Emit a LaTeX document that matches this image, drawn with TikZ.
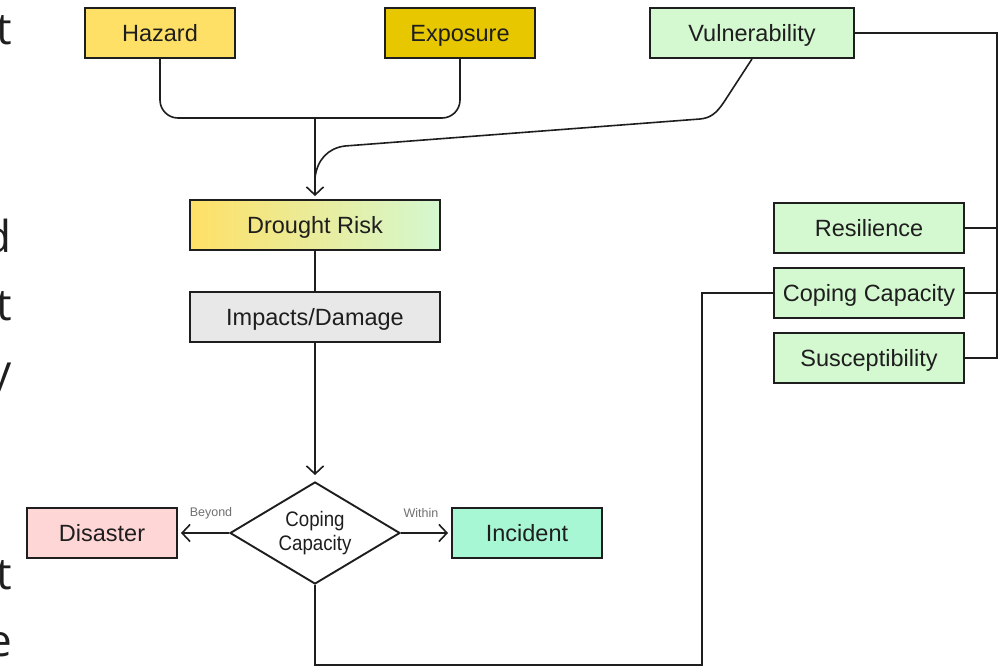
\documentclass[tikz,border=0pt]{standalone}
\usepackage{fontspec}
\setmainfont{Liberation Sans}
\newfontfamily\condfont{Liberation Sans}[FakeStretch=0.89]
\newfontfamily\edgefont{Open Sans}
\usetikzlibrary{shapes.geometric,arrows.meta}

\definecolor{hazardfill}{HTML}{FFE066}
\definecolor{exposurefill}{HTML}{E6C700}
\definecolor{vulnfill}{HTML}{D4F8D0}
\definecolor{impactfill}{HTML}{E8E8E8}
\definecolor{disasterfill}{HTML}{FFD6D6}
\definecolor{incidentfill}{HTML}{A8F7D4}
\definecolor{inkline}{HTML}{1E1E1E}
\definecolor{notegray}{HTML}{707070}

\begin{document}
\begin{tikzpicture}[x=1pt,y=-1pt,
  blk/.style={draw=inkline, line width=1.9pt, rectangle, inner sep=0pt,
    text=inkline, text height=17pt, text depth=0pt,
    font=\fontsize{23.5}{28}\selectfont},
  wide/.style={minimum width=150, minimum height=50},
  conn/.style={draw=inkline, line width=1.6pt},
  tip/.style={conn, -{Straight Barb[length=8pt,width=17pt]}},
  note/.style={text=notegray, font=\fontsize{12.5}{14}\selectfont, inner sep=0pt},
  edge/.style={anchor=base east, inner sep=0pt, text=inkline,
    font=\edgefont\fontsize{44}{50}\selectfont}]
\useasboundingbox (0,0) rectangle (999,666);
\fill[white] (0,0) rectangle (999,666);

% word endings of the neighbouring text column
\node[edge] (e1) at (12,45)  {t};
\node[edge] (e2) at (12,252) {d};
\node[edge] (e3) at (12,320) {t};
\node[edge] (e4) at (12,386) {y};
\node[edge] (e5) at (12,589) {t};
\node[edge] (e6) at (12,656) {e};

% drivers of risk
\node[blk, wide, fill=hazardfill] (haz) at (160,33) {Hazard};
\node[blk, wide, fill=exposurefill] (exp) at (460,33) {Exposure};
\node[blk, fill=vulnfill, minimum width=204, minimum height=50] (vul) at (752,33) {Vulnerability};

% components of vulnerability
\node[blk, fill=vulnfill, minimum width=190, minimum height=50] (res) at (869,228) {Resilience};
\node[blk, fill=vulnfill, minimum width=190, minimum height=50] (cop) at (869,293) {Coping Capacity};
\node[blk, fill=vulnfill, minimum width=190, minimum height=50] (sus) at (869,358) {Susceptibility};

% main chain
\node[blk, left color=hazardfill, right color=vulnfill, minimum width=250, minimum height=50] (dr) at (315,225) {Drought Risk};
\node[blk, fill=impactfill, minimum width=250, minimum height=50] (imp) at (315,317) {Impacts/Damage};
\node[draw=inkline, line width=1.9pt, diamond, aspect=1.667, fill=white, inner sep=0pt,
  minimum width=170, minimum height=102, align=center, text=inkline,
  font=\condfont\fontsize{21}{24}\selectfont] (dia) at (315,533) {Coping\\Capacity};
\node[blk, wide, fill=disasterfill] (dis) at (102,533) {Disaster};
\node[blk, wide, fill=incidentfill] (inc) at (527,533) {Incident};

% helper points
\coordinate (jn) at (315,118);
\coordinate (merge) at (315,178);
\coordinate (lowc) at (702,665);
\coordinate (busbot) at (997,358);

% hazard and exposure join
\draw[conn, rounded corners=18] (haz.south) |- (jn) -| (exp.south);
\draw[tip, shorten >=3pt] (jn) -- (dr.north);

% vulnerability feed
\draw[conn] (vul.south) -- (724,102) .. controls (716,114) and (710,118) .. (700,119)
  -- (345,146) .. controls (328,148) and (317,160) .. (merge);

% vulnerability bus
\draw[conn] (vul.east) -| (busbot) -- (sus.east);
\draw[conn] (res.east) -- (res.east -| busbot);
\draw[conn] (cop.east) -- (cop.east -| busbot);

% flow down the chain
\draw[conn] (dr.south) -- (imp.north);
\draw[tip, shorten >=6pt] (imp.south) -- (dia.north);
\draw[tip, shorten >=3pt] (dia.west) -- (dis.east);
\draw[tip, shorten >=3pt] (dia.east) -- (inc.west);
\node[note] (beyond) at (211,513) {Beyond};
\node[note] (within) at (421,513) {Within};

% feedback to coping capacity
\draw[conn] (dia.south) |- (lowc) |- (cop.west);
\end{tikzpicture}
\end{document}
